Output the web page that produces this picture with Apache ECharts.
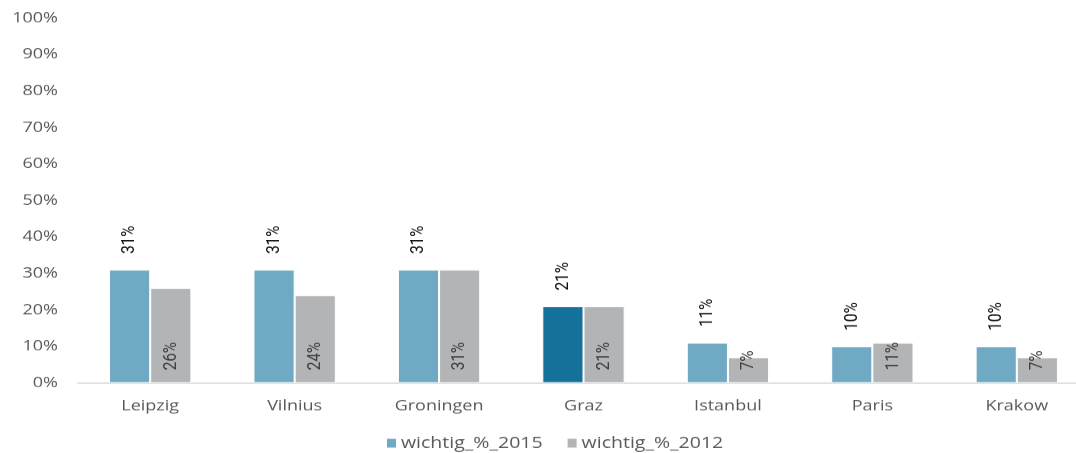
<!DOCTYPE html>
<html>
<head>
<meta charset="utf-8">
<script src="https://cdn.jsdelivr.net/npm/echarts@6/dist/echarts.min.js"></script>
<style>
  html, body { margin: 0; padding: 0; background: #fff; overflow: hidden; }
  #wrap { width: 1076px; height: 453px; overflow: hidden; }
  /* chart is laid out taller and compressed vertically to the final frame */
  #chart { width: 1076px; height: 566px; transform: scaleY(0.8); transform-origin: 0 0; }
</style>
</head>
<body>
<div id="wrap"><div id="chart"></div></div>
<script>
const cities = ['Leipzig', 'Vilnius', 'Groningen', 'Graz', 'Istanbul', 'Paris', 'Krakow'];
const values2015 = [31, 31, 31, 21, 11, 10, 10];
const values2012 = [26, 24, 31, 21, 7, 11, 7];
const yTicks = [0, 10, 20, 30, 40, 50, 60, 70, 80, 90, 100];
const seriesNames = ['wichtig_%_2015', 'wichtig_%_2012'];
const highlightCity = 'Graz';

const blue = '#70a9c4';
const blueDark = '#13719a';
const grey = '#b2b4b5';
const textGrey = '#595959';

const chart = echarts.init(document.getElementById('chart'));
chart.setOption({
  animation: false,
  grid: {
    left: 78, width: 1011, top: 22.5, bottom: 87.25,
    containLabel: false, outerBoundsMode: 'none'
  },
  legend: {
    top: 544,
    left: 385,
    padding: 0,
    itemWidth: 11,
    itemHeight: 13,
    itemGap: 23,
    icon: 'rect',
    textStyle: { fontFamily: 'Open Sans', fontSize: 19.5, lineHeight: 20, color: textGrey, padding: [0, 0, 0, -1] },
    data: seriesNames
  },
  xAxis: {
    type: 'category',
    data: cities,
    axisTick: { show: false },
    axisLine: { lineStyle: { color: '#d6d6d6', width: 1.6 } },
    axisLabel: { fontFamily: 'Open Sans', fontSize: 18, color: textGrey, margin: 20 }
  },
  yAxis: {
    type: 'value',
    min: yTicks[0],
    max: yTicks[yTicks.length - 1],
    interval: yTicks[1] - yTicks[0],
    splitLine: { show: false },
    axisLine: { show: false },
    axisTick: { show: false },
    axisLabel: {
      fontFamily: 'Open Sans', fontSize: 18, color: textGrey, margin: 20,
      formatter: v => v + '%'
    }
  },
  series: [
    {
      name: seriesNames[0],
      type: 'bar',
      barGap: '0%',
      barCategoryGap: '43%',
      itemStyle: { color: blue, borderColor: '#ffffff', borderWidth: 1 },
      data: values2015.map((v, i) => cities[i] === highlightCity
        ? { value: v, itemStyle: { color: blueDark } }
        : v),
      label: {
        show: true,
        position: 'top',
        rotate: 90,
        align: 'left',
        verticalAlign: 'middle',
        distance: 20,
        fontFamily: 'Roboto',
        fontSize: 19,
        color: '#111111',
        formatter: p => p.value + '%'
      }
    },
    {
      name: seriesNames[1],
      type: 'bar',
      itemStyle: { color: grey, borderColor: '#ffffff', borderWidth: 1 },
      data: values2012,
      label: {
        show: true,
        position: 'insideBottom',
        rotate: 90,
        align: 'left',
        verticalAlign: 'middle',
        distance: 16,
        fontFamily: 'Roboto',
        fontSize: 19,
        color: '#404040',
        formatter: p => p.value + '%'
      }
    }
  ]
});
</script>
</body>
</html>
